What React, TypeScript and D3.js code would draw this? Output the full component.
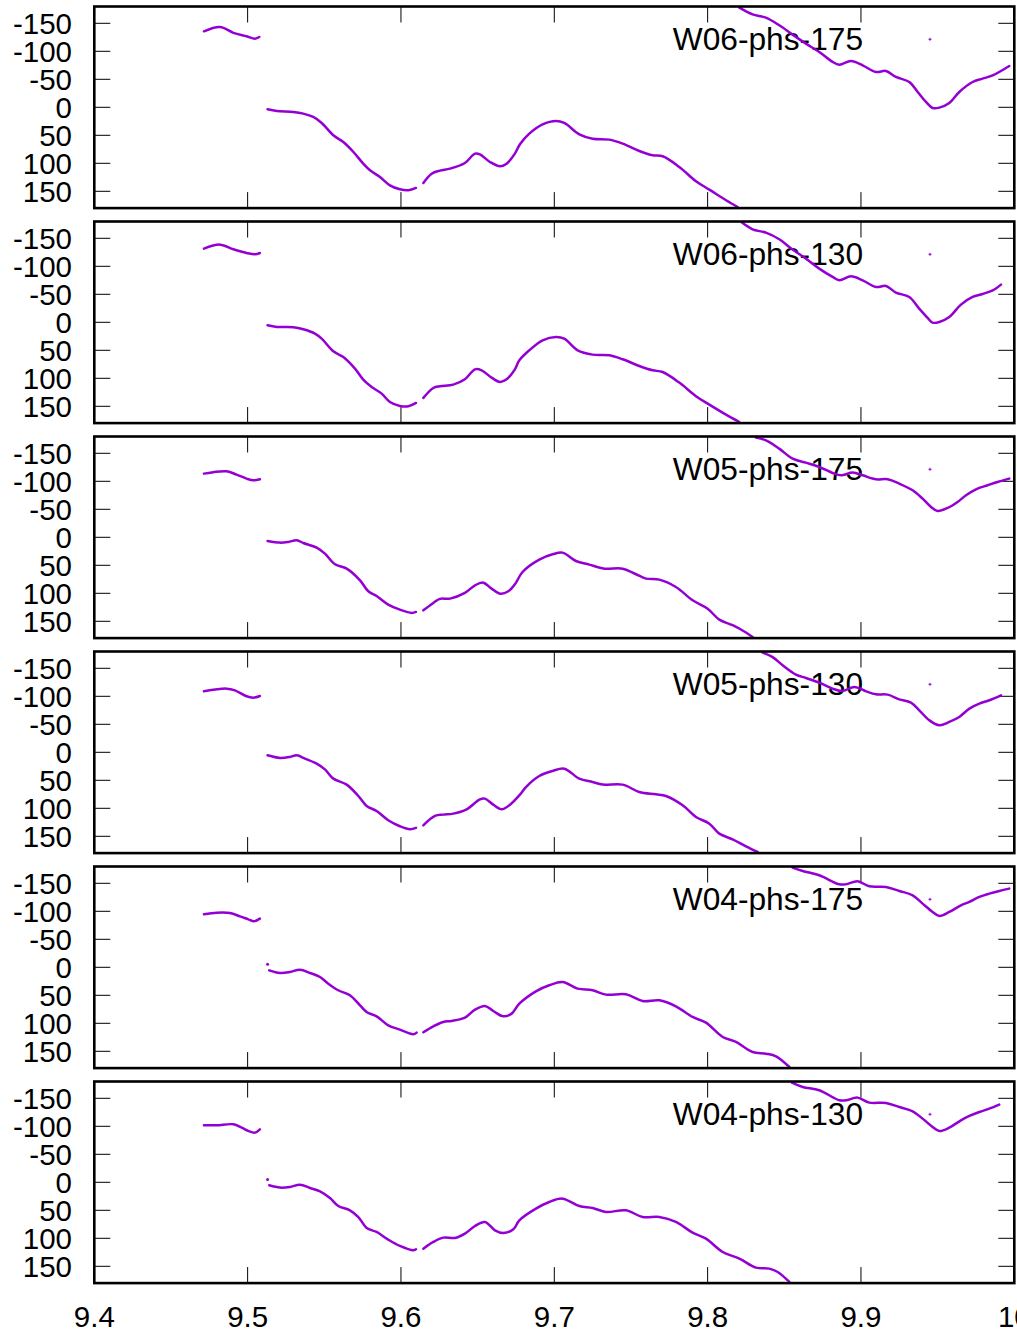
import React from "react";
import * as d3 from "d3";

type P = [number, number];

const PANEL_TITLES = ["W06-phs-175", "W06-phs-130", "W05-phs-175", "W05-phs-130", "W04-phs-175", "W04-phs-130"];
const X_TICKS = [9.4, 9.5, 9.6, 9.7, 9.8, 9.9, 10];
const Y_TICKS = [-150, -100, -50, 0, 50, 100, 150];

// ---- W06-phs-175
const w06_175_a: P[] = [[9.4715, -135.7], [9.482, -143.5], [9.4907, -133], [9.4993, -126.8], [9.5048, -122.6], [9.5076, -125.6]];
const w06_175_b: P[] = [[9.513, 3.6], [9.519, 6.5], [9.5298, 8.3], [9.5363, 11.3], [9.5428, 17.3], [9.5483, 28], [9.5559, 50], [9.5624, 62], [9.569, 79.8], [9.5754, 100.6], [9.5798, 112.5], [9.5863, 124.4], [9.5928, 139.3], [9.5993, 146.4], [9.6048, 148.2], [9.6098, 144]];
const w06_175_c: P[] = [[9.6146, 135], [9.62, 118.5], [9.6254, 113], [9.632, 109.5], [9.6417, 99.4], [9.6483, 82.7], [9.6515, 84], [9.658, 97.6], [9.6646, 105.4], [9.6689, 100.6], [9.6743, 82.7], [9.6776, 66], [9.6837, 47], [9.6924, 30.4], [9.7011, 24.4], [9.7065, 28], [9.7163, 48.2], [9.725, 56], [9.7359, 57.7], [9.7446, 64.9], [9.7554, 78], [9.7641, 85.7], [9.7707, 87.5], [9.7815, 106.5], [9.7924, 132], [9.8011, 147], [9.812, 166], [9.8196, 178]];
const w06_175_d: P[] = [[9.8207, -178], [9.8293, -166], [9.838, -160], [9.8467, -146.4], [9.8554, -129.8], [9.8641, -113.7], [9.8728, -98.8], [9.8815, -81], [9.8859, -76.2], [9.8935, -82.7], [9.9011, -75], [9.9098, -63], [9.9163, -64.9], [9.9228, -54.2], [9.9315, -45.2], [9.937, -27.4], [9.9424, -9.5], [9.9467, 1.2], [9.9511, 0.6], [9.9576, -7.7], [9.9641, -27.4], [9.9728, -45.2], [9.9793, -51.2], [9.9859, -57], [9.9967, -73.8]];

// ---- W06-phs-130
const w06_130_a: P[] = [[9.4715, -131.5], [9.482, -138.7], [9.4907, -130.4], [9.4993, -123.8], [9.5048, -121.4], [9.508, -123.8]];
const w06_130_b: P[] = [[9.513, 5.4], [9.519, 8.3], [9.5298, 8.9], [9.5363, 12.5], [9.5439, 20.2], [9.5483, 29.2], [9.5559, 51.8], [9.5624, 62], [9.57, 82.7], [9.5754, 102.4], [9.5809, 115.5], [9.5874, 127.4], [9.5928, 142.3], [9.5993, 149.4], [9.6048, 150], [9.6098, 144]];
const w06_130_c: P[] = [[9.6146, 135], [9.6211, 117.3], [9.6254, 114.3], [9.6341, 111.3], [9.6417, 101.8], [9.6483, 84], [9.6526, 85.7], [9.6591, 98.8], [9.6646, 106.5], [9.6689, 101.8], [9.6743, 84], [9.6772, 67.9], [9.6837, 50], [9.6924, 32.1], [9.7011, 26.2], [9.7065, 29.2], [9.7152, 50], [9.725, 57.7], [9.7359, 58.9], [9.7446, 66], [9.7554, 78], [9.7641, 85.7], [9.7707, 88.7], [9.7815, 107.7], [9.7924, 132], [9.8011, 147], [9.812, 164.9], [9.8207, 178]];
const w06_130_d: P[] = [[9.8224, -178], [9.8293, -166], [9.838, -160], [9.8467, -148.2], [9.8554, -129.8], [9.8641, -113.7], [9.8728, -95.8], [9.8815, -81], [9.8859, -75], [9.8935, -82.1], [9.9011, -75], [9.9098, -63], [9.9163, -64.9], [9.9228, -53], [9.9315, -45.2], [9.938, -24.4], [9.9435, -7.7], [9.9467, 0.6], [9.9511, -0.6], [9.9576, -9.5], [9.9652, -31.5], [9.9728, -45.2], [9.9793, -50.6], [9.9859, -57], [9.9913, -67.3]];

// ---- W05-phs-175
const w05_175_a: P[] = [[9.4715, -113.7], [9.4863, -117.9], [9.4928, -111.9], [9.4993, -104.8], [9.5037, -101.8], [9.508, -103.6]];
const w05_175_b: P[] = [[9.513, 6.5], [9.5211, 9.5], [9.5265, 8.3], [9.532, 5.4], [9.5363, 10.1], [9.545, 18.5], [9.5504, 29.2], [9.557, 48.2], [9.5646, 56], [9.5733, 76.8], [9.5787, 96.4], [9.5841, 104.8], [9.5917, 120.2], [9.5993, 129.2], [9.607, 135], [9.6098, 133.3]];
const w05_175_c: P[] = [[9.6146, 130.4], [9.6211, 117.3], [9.6254, 110], [9.632, 109.5], [9.6417, 99.4], [9.6483, 85.7], [9.6537, 81], [9.6591, 91.7], [9.6646, 100.6], [9.67, 96.4], [9.6743, 84], [9.6793, 62], [9.6902, 39.9], [9.6989, 30.4], [9.7054, 27.4], [9.7141, 42.3], [9.7228, 48.8], [9.7326, 56], [9.7446, 56], [9.7533, 66], [9.7598, 73.8], [9.7685, 75.6], [9.7793, 88.7], [9.7902, 112.5], [9.8, 127.4], [9.8076, 147], [9.8163, 157], [9.825, 170], [9.8293, 178]];
const w05_175_d: P[] = [[9.8315, -178], [9.838, -173], [9.8467, -158.3], [9.8554, -140.5], [9.8641, -133.3], [9.8728, -125.6], [9.8815, -114.9], [9.887, -110.7], [9.8946, -115.5], [9.9011, -110.7], [9.9098, -103.6], [9.9174, -103.6], [9.925, -95.8], [9.9337, -83.9], [9.9402, -69], [9.9457, -54.2], [9.95, -47], [9.9565, -52.4], [9.963, -63.1], [9.9685, -75], [9.975, -85.7], [9.9826, -92.9], [9.9891, -98.8], [9.9967, -104.8]];

// ---- W05-phs-130
const w05_130_a: P[] = [[9.4715, -108.9], [9.4863, -113.7], [9.4917, -110.7], [9.4993, -100], [9.5037, -97.6], [9.508, -100.6]];
const w05_130_b: P[] = [[9.513, 5.4], [9.5211, 10.1], [9.5276, 8.3], [9.532, 5.4], [9.5374, 11.3], [9.545, 20.2], [9.5504, 30.4], [9.5559, 47], [9.5646, 57.7], [9.5722, 78], [9.5776, 95.8], [9.5841, 104.8], [9.5917, 121.4], [9.5993, 132.1], [9.6059, 137.5], [9.6098, 135]];
const w05_130_c: P[] = [[9.6146, 130.4], [9.6222, 113.7], [9.6276, 111.3], [9.6341, 109.5], [9.6428, 101.8], [9.6515, 84], [9.6548, 82.7], [9.6602, 93.5], [9.6657, 101.8], [9.6711, 93.5], [9.6776, 75.6], [9.6815, 62], [9.6902, 42.3], [9.6989, 33.3], [9.7065, 29.2], [9.7163, 47], [9.725, 53], [9.7315, 57.7], [9.7446, 57.7], [9.7554, 70.8], [9.7663, 75], [9.7728, 78], [9.7837, 94.6], [9.7924, 115.5], [9.8011, 127.4], [9.8076, 145.2], [9.8163, 155.4], [9.825, 167.9], [9.8326, 178]];
const w05_130_d: P[] = [[9.8359, -178], [9.8424, -170], [9.8489, -155.4], [9.8576, -138.7], [9.8641, -132.7], [9.8728, -124.4], [9.8815, -113.7], [9.888, -109.5], [9.8957, -116.7], [9.9033, -108.9], [9.9098, -103.6], [9.9174, -103], [9.925, -94.6], [9.9326, -88.7], [9.938, -75], [9.9446, -57.1], [9.9511, -48.2], [9.9576, -54.2], [9.9641, -63.1], [9.9707, -78], [9.9772, -86.9], [9.9837, -92.9], [9.9913, -101.8]];

// ---- W04-phs-175
const w04_175_a: P[] = [[9.4715, -94.6], [9.4798, -97.6], [9.4885, -97], [9.495, -91], [9.5004, -85.7], [9.5041, -82.1], [9.508, -86.9]];
const w04_175_lone: P[] = [[9.513, -5.4]];
const w04_175_b: P[] = [[9.5141, 5.4], [9.5211, 10.1], [9.5276, 8.3], [9.5341, 4.2], [9.5407, 10.1], [9.5472, 17.3], [9.5526, 29.2], [9.5591, 41], [9.5667, 50], [9.5733, 67.9], [9.5776, 79.8], [9.5841, 87.5], [9.5917, 103.6], [9.5993, 111.3], [9.608, 119.6], [9.6102, 116.7]];
const w04_175_c: P[] = [[9.6146, 116], [9.6211, 105.4], [9.6276, 97.6], [9.633, 95.8], [9.6417, 89.9], [9.6483, 75.6], [9.6548, 69], [9.6602, 78], [9.6667, 87.5], [9.6722, 82.7], [9.6772, 64.9], [9.688, 42.9], [9.6967, 32.1], [9.7054, 26.2], [9.7152, 38.1], [9.725, 41], [9.7337, 48.8], [9.7467, 48.2], [9.7576, 60.1], [9.7685, 58.9], [9.7793, 69.6], [9.7902, 88.7], [9.7989, 98.8], [9.8098, 124.4], [9.8185, 133.3], [9.8293, 151.2], [9.838, 154.2], [9.8446, 158.9], [9.8533, 178]];
const w04_175_d: P[] = [[9.8554, -178], [9.862, -172], [9.8728, -164.3], [9.8859, -148.2], [9.8902, -148.2], [9.8978, -153.6], [9.9054, -144.6], [9.9163, -143.5], [9.925, -136.3], [9.9337, -128.6], [9.9402, -113.7], [9.9467, -98.8], [9.9511, -91.7], [9.9576, -98.8], [9.9652, -110.7], [9.9707, -116.7], [9.9772, -125.6], [9.9837, -131.5], [9.9902, -136.3], [9.9967, -140.5]];

// ---- W04-phs-130
const w04_130_a: P[] = [[9.4715, -101.8], [9.4798, -101.8], [9.4907, -103.6], [9.4961, -97.6], [9.5004, -91.7], [9.5048, -88.7], [9.508, -94.6]];
const w04_130_lone: P[] = [[9.513, -4.8]];
const w04_130_b: P[] = [[9.5141, 5.4], [9.5211, 9.5], [9.5276, 8.3], [9.5341, 4.2], [9.5407, 10.1], [9.5472, 16.1], [9.5537, 28], [9.5591, 42.3], [9.5667, 50], [9.5722, 62], [9.5776, 81.5], [9.5841, 88.7], [9.5917, 102.4], [9.5993, 113.7], [9.608, 121.4], [9.6098, 119.6]];
const w04_130_c: P[] = [[9.6146, 118.5], [9.6211, 106.5], [9.6276, 98.8], [9.6352, 99.4], [9.6417, 91.7], [9.6483, 78], [9.6548, 70.8], [9.6613, 85.7], [9.6667, 90.5], [9.6733, 84], [9.6772, 67.9], [9.688, 47], [9.6967, 35.1], [9.7054, 29.2], [9.7163, 42.3], [9.725, 45.8], [9.7337, 53], [9.7467, 50], [9.7576, 62], [9.7685, 62], [9.7793, 70.8], [9.7902, 89.9], [9.7989, 100.6], [9.8098, 124.4], [9.8207, 136.3], [9.8315, 152.4], [9.8402, 154.2], [9.8457, 160.1], [9.8533, 178]];
const w04_130_d: P[] = [[9.855, -178], [9.862, -170.2], [9.8728, -164.3], [9.8859, -146.4], [9.8902, -146.4], [9.8978, -151.2], [9.9054, -142.3], [9.9163, -141.7], [9.925, -134.5], [9.9337, -126.8], [9.9402, -113.7], [9.9467, -98.8], [9.9511, -91.7], [9.9576, -97.6], [9.9652, -110.7], [9.9707, -118.5], [9.9772, -125.6], [9.9837, -131.5], [9.9902, -138.7]];

const PANEL_SEGMENTS: P[][][] = [
  [w06_175_a, w06_175_b, w06_175_c, w06_175_d],
  [w06_130_a, w06_130_b, w06_130_c, w06_130_d],
  [w05_175_a, w05_175_b, w05_175_c, w05_175_d],
  [w05_130_a, w05_130_b, w05_130_c, w05_130_d],
  [w04_175_a, w04_175_b, w04_175_c, w04_175_d],
  [w04_130_a, w04_130_b, w04_130_c, w04_130_d],
];
const PANEL_LONE: P[][] = [[], [], [], [], w04_175_lone, w04_130_lone];

const W = 1017;
const H = 1332;
const LEFT = 94.3;
const RIGHT = 1014.3;
const PANEL_TOP0 = 6.5;
const PANEL_STEP = 215;
const PANEL_H = 201.6;
const TICK = 16;
const COLOR = "#9400d3";
const FONT = "'Liberation Sans', Arial, Helvetica, sans-serif";

export default function App() {
  const x = d3.scaleLinear().domain([9.4, 10]).range([LEFT, RIGHT]);
  return (
    <svg width={W} height={H} style={{ position: "absolute", left: 0, top: 0, background: "#fff" }} fontFamily={FONT}>
      <rect x={0} y={0} width={W} height={H} fill="#fff" />
      {PANEL_TITLES.map((title, i) => {
        const top = PANEL_TOP0 + PANEL_STEP * i;
        const y = d3.scaleLinear().domain([-180, 180]).range([top, top + PANEL_H]);
        const line = d3
          .line<P>()
          .x((d) => x(d[0]))
          .y((d) => y(d[1]))
          .curve(d3.curveCatmullRom.alpha(0.5));
        const bottom = top + PANEL_H;
        return (
          <g key={title}>
            {Y_TICKS.map((t) => (
              <g key={"y" + t}>
                <line x1={LEFT} x2={LEFT + TICK} y1={y(t)} y2={y(t)} stroke="#000" strokeWidth={1} />
                <line x1={RIGHT - TICK} x2={RIGHT} y1={y(t)} y2={y(t)} stroke="#000" strokeWidth={1} />
                <text x={72} y={y(t)} dy="0.36em" textAnchor="end" fontSize={29.5} fill="#000">
                  {String(t)}
                </text>
              </g>
            ))}
            {X_TICKS.map((t) => (
              <g key={"x" + t}>
                <line x1={x(t)} x2={x(t)} y1={top} y2={top + TICK} stroke="#000" strokeWidth={1} />
                <line x1={x(t)} x2={x(t)} y1={bottom - TICK} y2={bottom} stroke="#000" strokeWidth={1} />
              </g>
            ))}
            <text x={863} y={top + 32.5} dy="0.36em" textAnchor="end" fontSize={31.7} fill="#000">
              {title}
            </text>
            <g stroke={COLOR} strokeWidth={1}>
              <line x1={928.5} x2={931.5} y1={top + 32.8} y2={top + 32.8} />
              <line x1={930} x2={930} y1={top + 31.3} y2={top + 34.3} />
            </g>
            {PANEL_SEGMENTS[i].map((seg, k) => (
              <path key={k} d={line(seg) || ""} fill="none" stroke={COLOR} strokeWidth={2.5} strokeLinecap="round" strokeLinejoin="round" />
            ))}
            {PANEL_LONE[i].map((d, k) => (
              <circle key={"p" + k} cx={x(d[0])} cy={y(d[1])} r={1.5} fill={COLOR} />
            ))}
            <rect x={LEFT} y={top} width={RIGHT - LEFT} height={PANEL_H} fill="none" stroke="#000" strokeWidth={2.6} />
          </g>
        );
      })}
      {X_TICKS.map((t) => (
        <text key={"xl" + t} x={x(t)} y={1327} textAnchor="middle" fontSize={29.5} fill="#000">
          {String(t)}
        </text>
      ))}
    </svg>
  );
}
